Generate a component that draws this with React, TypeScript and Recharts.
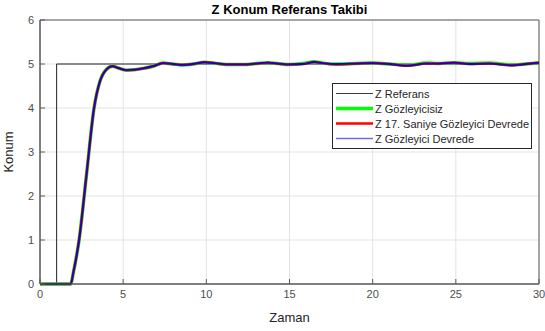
import React from "react";
import {
  LineChart,
  Line,
  XAxis,
  YAxis,
  CartesianGrid,
  ReferenceArea,
  Label,
} from "recharts";

// Reference step input
const refZaman = [0, 1, 1, 30];
const refKonum = [0, 0, 5, 5];

// Common time base for the responses
const zaman = [
  0, 1.85, 2.0, 2.35, 2.8, 3.25, 3.6, 4.0, 4.35, 4.7, 5.2, 5.7, 6.2, 6.8, 7.4,
  8.0, 8.5, 9.2, 9.9, 10.5, 11.2, 12.2, 13.0, 13.7, 14.3, 15.0, 15.8, 16.5,
  17.0, 17.8, 19.0, 20.0, 21.0, 22.1, 23.2, 24.0, 24.9, 25.8, 27.0, 28.4, 29.2,
  30.0,
];

// Observer-less response
const zGozleyicisiz = [
  0, 0, 0.25, 1.0, 2.5, 4.0, 4.6, 4.88, 4.95, 4.91, 4.86, 4.87, 4.9, 4.95,
  5.02, 5.0, 4.98, 5.0, 5.04, 5.02, 4.99, 4.99, 5.01, 5.03, 5.01, 4.99, 5.01,
  5.05, 5.02, 5.0, 5.01, 5.02, 5.0, 4.97, 5.02, 5.01, 5.03, 5.01, 5.02, 4.98,
  5.0, 5.03,
];

// Observer switched in at t = 17 s
const z17Saniye = [
  0, 0, 0.25, 1.0, 2.5, 4.0, 4.6, 4.88, 4.95, 4.91, 4.86, 4.87, 4.9, 4.95,
  5.02, 5.0, 4.98, 5.0, 5.04, 5.02, 4.99, 4.99, 5.01, 5.03, 5.01, 4.99, 5.0,
  5.045, 5.02, 4.99, 5.01, 5.02, 5.0, 4.96, 5.01, 5.01, 5.03, 5.0, 5.01, 4.97,
  5.0, 5.03,
];

// Observer active for the whole run
const zGozleyiciDevrede = [
  0, 0, 0.25, 1.0, 2.5, 4.0, 4.6, 4.88, 4.95, 4.91, 4.86, 4.87, 4.9, 4.95,
  5.02, 5.0, 4.98, 5.0, 5.04, 5.02, 4.99, 4.99, 5.01, 5.03, 5.01, 4.99, 5.0,
  5.045, 5.02, 5.0, 5.01, 5.02, 5.0, 4.96, 5.01, 5.01, 5.03, 5.0, 5.01, 4.97,
  5.0, 5.03,
];

const xTicks = [0, 5, 10, 15, 20, 25, 30];
const yTicks = [0, 1, 2, 3, 4, 5, 6];

const refData = refZaman.map((t, i) => ({ t, v: refKonum[i] }));
const seriesData = (vals: number[]) => zaman.map((t, i) => ({ t, v: vals[i] }));

const legendItems = [
  { name: "Z Referans", color: "#3a3a3a", width: 1 },
  { name: "Z Gözleyicisiz", color: "#00ff00", width: 3.5 },
  { name: "Z 17. Saniye Gözleyici Devrede", color: "#ff0000", width: 2.5 },
  { name: "Z Gözleyici Devrede", color: "#6b6bf0", width: 1.5 },
];

const FONT = "Arial, 'Liberation Sans', Helvetica, sans-serif";
const TICK = { fontSize: 11, fill: "#4d4d4d", fontFamily: FONT };
const AXIS_STROKE = "#5a5a5a";
const NoLabel = () => null;

const LegendBox = () => (
  <div
    style={{
      position: "absolute",
      left: 332,
      top: 83,
      border: "1px solid #262626",
      background: "#fff",
      width: 198,
      padding: "2px 0",
      fontFamily: FONT,
      fontSize: 11,
      color: "#262626",
      zIndex: 2,
    }}
  >
    {legendItems.map((it) => (
      <div
        key={it.name}
        style={{ display: "flex", alignItems: "center", height: 15 }}
      >
        <svg width={42} height={15} style={{ flex: "none" }}>
          <line
            x1={3}
            x2={40}
            y1={7.5}
            y2={7.5}
            stroke={it.color}
            strokeWidth={it.width}
          />
        </svg>
        <span style={{ whiteSpace: "nowrap" }}>{it.name}</span>
      </div>
    ))}
  </div>
);

export default function App() {
  return (
    <div
      style={{
        position: "fixed",
        left: 0,
        top: 0,
        width: 545,
        height: 331,
        background: "#fff",
      }}
    >
      <div
        style={{
          position: "absolute",
          left: 40,
          width: 499,
          top: 2,
          textAlign: "center",
          fontFamily: FONT,
          fontWeight: "bold",
          fontSize: 13,
          color: "#000",
          zIndex: 2,
        }}
      >
        Z Konum Referans Takibi
      </div>
      <LineChart
        width={545}
        height={331}
        margin={{ top: 20, right: 6, bottom: 0, left: 0 }}
      >
        <CartesianGrid stroke="#e3e3e3" strokeWidth={1} />
        <XAxis
          dataKey="t"
          type="number"
          domain={[0, 30]}
          ticks={xTicks}
          allowDuplicatedCategory={false}
          height={47}
          tick={TICK}
          tickLine={{ stroke: AXIS_STROKE }}
          tickSize={-5}
          tickMargin={11}
          axisLine={{ stroke: AXIS_STROKE }}
          interval={0}
        >
          <Label
            value="Zaman"
            position="insideBottom"
            offset={9}
            style={{ fontSize: 13, fill: "#262626", fontFamily: FONT }}
          />
        </XAxis>
        <XAxis
          xAxisId="top"
          orientation="top"
          dataKey="t"
          type="number"
          domain={[0, 30]}
          ticks={xTicks}
          height={0}
          tick={<NoLabel />}
          tickLine={{ stroke: AXIS_STROKE }}
          tickSize={-5}
          axisLine={{ stroke: AXIS_STROKE }}
          interval={0}
        />
        <YAxis
          dataKey="v"
          type="number"
          domain={[0, 6]}
          ticks={yTicks}
          width={40}
          tick={TICK}
          tickLine={{ stroke: AXIS_STROKE }}
          tickSize={-5}
          tickMargin={11}
          axisLine={{ stroke: AXIS_STROKE }}
          interval={0}
        >
          <Label
            value="Konum"
            angle={-90}
            position="insideLeft"
            offset={8}
            style={{
              fontSize: 13,
              fill: "#262626",
              fontFamily: FONT,
              textAnchor: "middle",
            }}
          />
        </YAxis>
        <YAxis
          yAxisId="right"
          orientation="right"
          dataKey="v"
          type="number"
          domain={[0, 6]}
          ticks={yTicks}
          width={0}
          tick={<NoLabel />}
          tickLine={{ stroke: AXIS_STROKE }}
          tickSize={-5}
          axisLine={{ stroke: AXIS_STROKE }}
          interval={0}
        />
        <ReferenceArea
          x1={0}
          x2={30}
          y1={0}
          y2={6}
          fill="none"
          stroke={AXIS_STROKE}
          strokeWidth={1}
        />
        <Line
          data={refData}
          dataKey="v"
          type="linear"
          stroke="#222"
          strokeWidth={1}
          dot={false}
          isAnimationActive={false}
          name="Z Referans"
        />
        <Line
          data={seriesData(zGozleyicisiz)}
          dataKey="v"
          type="monotone"
          stroke="#00ff00"
          strokeWidth={3.5}
          dot={false}
          isAnimationActive={false}
          name="Z Gözleyicisiz"
        />
        <Line
          data={seriesData(z17Saniye)}
          dataKey="v"
          type="monotone"
          stroke="#ff0000"
          strokeWidth={2.5}
          dot={false}
          isAnimationActive={false}
          name="Z 17. Saniye Gözleyici Devrede"
        />
        <Line
          data={seriesData(zGozleyiciDevrede)}
          dataKey="v"
          type="monotone"
          stroke="#1a00c8"
          strokeWidth={1.8}
          dot={false}
          isAnimationActive={false}
          name="Z Gözleyici Devrede"
        />
      </LineChart>
      <LegendBox />
    </div>
  );
}
